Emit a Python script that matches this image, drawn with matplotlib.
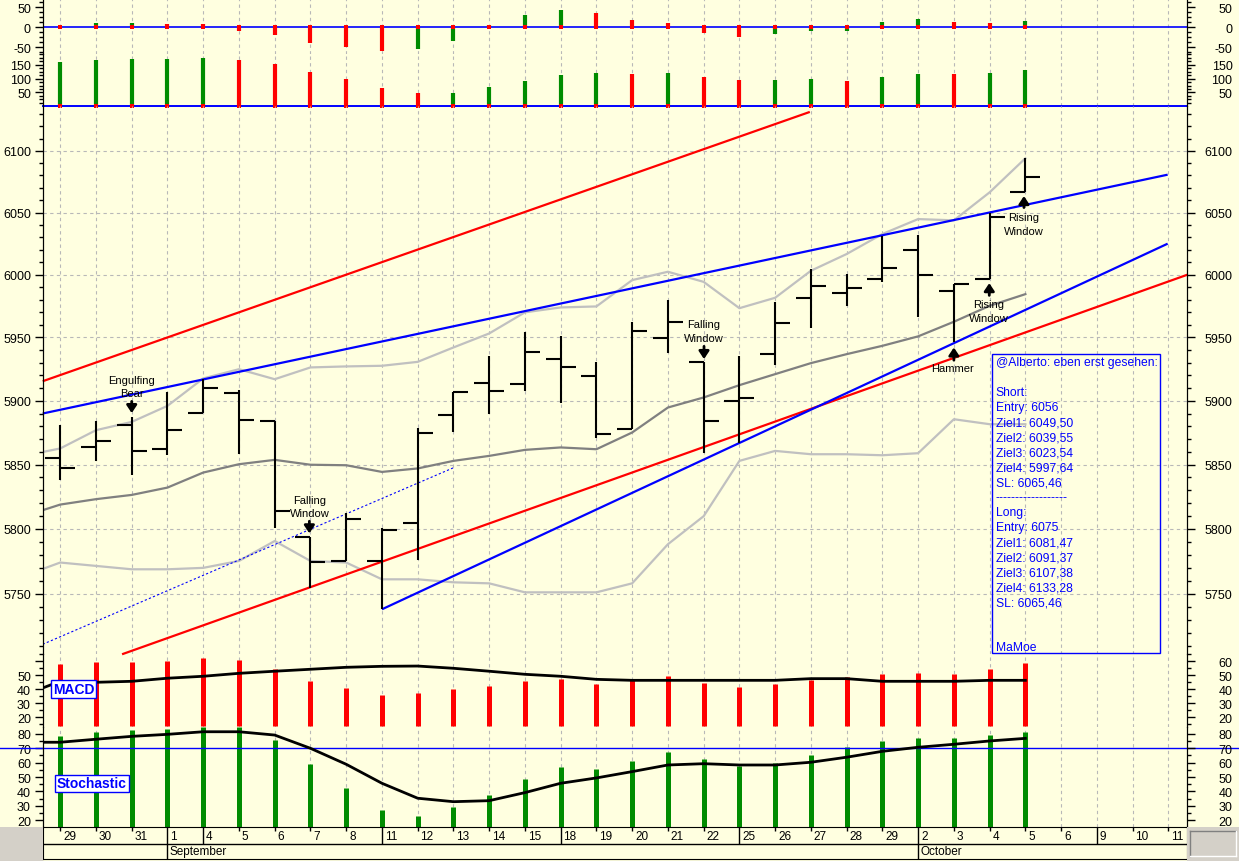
import matplotlib
matplotlib.use("Agg")
import numpy as np
import matplotlib.pyplot as plt
from matplotlib.ticker import FixedLocator, FuncFormatter, NullFormatter
from matplotlib.patches import Rectangle

plt.rcParams['font.family'] = ['Liberation Sans', 'DejaVu Sans']

W, H = 1239, 862
BG = '#ffffe0'
RED = '#ff0000'
GREEN = '#008c00'
BLUE = '#0000ff'
GRID = '#b8b8b8'

# ---- dates (trading days, Aug 29 .. Oct 11) ----
days = ['29', '30', '31', '1', '4', '5', '6', '7', '8', '11', '12', '13', '14', '15', '18', '19',
        '20', '21', '22', '25', '26', '27', '28', '29', '2', '3', '4', '5', '6', '9', '10', '11']
week_starts = [4, 9, 14, 19, 24, 29]
month_starts = [3, 24]
month_names = ['September', 'October']

# ---- momentum / volume (top panels) ----
mom = [1, 11, 11, 8, 8, -8, -18, -38, -48, -60, -55, -33, 6, 31, 43, 36,
       18, 11, -13, -23, -16, -8, -8, 12, 21, 12, 11, 16]
mom_col = ['r', 'g', 'g', 'r', 'r', 'r', 'r', 'r', 'r', 'r', 'g', 'g', 'g', 'g', 'g', 'r',
           'r', 'r', 'r', 'r', 'g', 'g', 'g', 'g', 'g', 'r', 'r', 'g']
vol = [161, 168, 171, 171, 175, 168, 153, 124, 99, 66, 48, 48, 70, 91, 113, 120,
       117, 120, 106, 95, 95, 99, 91, 106, 117, 117, 120, 131]
vol_col = ['g', 'g', 'g', 'g', 'g', 'r', 'r', 'r', 'r', 'r', 'r', 'g', 'g', 'g', 'g', 'g',
           'r', 'g', 'r', 'r', 'g', 'g', 'r', 'g', 'g', 'r', 'g', 'g']

# ---- OHLC ----
opens = [5855.0, 5863.8, 5880.8, 5862.3, 5890.5, 5905.8, 5884.2, 5793.8, 5775.0, 5775.3,
         5805.0, 5888.7, 5913.9, 5912.9, 5933.1, 5919.7, 5877.7, 5949.7, 5930.7, 5899.7,
         5937.1, 5981.4, 5985.3, 5996.5, 6020.0, 5986.9, 5996.5, 6066.3]
highs = [5880.8, 5884.5, 5886.9, 5907.3, 5917.3, 5908.4, 5884.2, 5793.8, 5812.7, 5801.1,
         5879.0, 5907.0, 5935.0, 5954.0, 5950.9, 5930.2, 5962.0, 5980.0, 5930.7, 5935.0,
         5977.9, 6004.5, 6000.5, 6031.3, 6031.8, 5992.5, 6049.6, 6093.9]
lows = [5837.8, 5852.9, 5842.0, 5857.6, 5890.5, 5858.1, 5800.6, 5754.5, 5775.0, 5738.2,
        5776.1, 5875.6, 5889.5, 5907.8, 5897.9, 5870.4, 5877.7, 5937.6, 5858.9, 5866.7,
        5928.1, 5957.2, 5974.7, 5993.9, 5966.0, 5946.1, 5996.5, 6066.3]
closes = [5847.2, 5868.5, 5860.7, 5877.2, 5910.0, 5884.8, 5814.0, 5774.8, 5807.5, 5799.0,
          5874.8, 5907.0, 5907.8, 5938.9, 5926.8, 5874.0, 5955.3, 5962.5, 5884.2, 5902.3,
          5961.7, 5990.7, 5989.3, 6005.1, 6000.0, 5992.5, 6046.1, 6078.9]

# indicator lines (first value = day before Aug 29)
ma = [5810, 5818.9, 5823.1, 5826.4, 5832.1, 5843.8, 5850.3, 5853.7, 5849.9, 5849.5, 5844.3,
      5847.0, 5852.9, 5856.8, 5861.5, 5863.4, 5862.0, 5875.1, 5894.7, 5902.6, 5912.3,
      5921.0, 5929.7, 5936.8, 5943.4, 5950.9, 5962.5, 5975.2, 5984.5]
band_up = [5857, 5862.6, 5876.9, 5883.4, 5896.0, 5917.6, 5924.9, 5917.0, 5926.3, 5927.1,
           5927.6, 5930.7, 5942.1, 5953.2, 5970.0, 5973.9, 5974.7, 5995.7, 6002.4, 5994.3,
           5973.3, 5981.6, 6003.2, 6016.6, 6032.7, 6044.7, 6043.7, 6066.3, 6093.9]
band_lo = [5764, 5774.1, 5771.5, 5768.9, 5768.9, 5770.0, 5775.3, 5790.7, 5775.3, 5774.1,
           5761.2, 5761.2, 5758.9, 5758.1, 5751.2, 5751.2, 5751.2, 5758.1, 5788.2, 5809.9,
           5852.9, 5860.7, 5858.1, 5858.1, 5857.3, 5858.9, 5885.5, 5881.6, 5881.6]

# trend lines: (x0, x1), (p0, p1)
red_upper = ([-0.49, 20.97], [5915.4, 6131.7])
red_lower = ([1.73, 31.53], [5703.9, 6000.0])
blue_upper = ([-0.49, 30.98], [5890.0, 6080.6])
blue_lower = ([9.0, 30.98], [5738.2, 6024.9])
blue_dotted = ([-0.49, 11.04], [5711.5, 5848.0])

notes = [("Engulfing\nBear", 2.0, 5911.5), ("Falling\nWindow", 6.97, 5817.6),
         ("Falling\nWindow", 18.01, 5955.1), ("Hammer", 24.96, 5925.7),
         ("Rising\nWindow", 25.98, 5971.0), ("Rising\nWindow", 26.96, 6040.7)]
arrows = [(2.0, 5899.5, 5890.3), (6.97, 5806.0, 5796.6), (18.01, 5943.0, 5932.9),
          (25.0, 5932.0, 5942.1), (25.99, 5983.5, 5993.3), (26.96, 6054.0, 6063.3)]

info_lines = ["@Alberto: eben erst gesehen:", "", "Short:", "Entry: 6056", "Ziel1: 6049,50",
              "Ziel2: 6039,55", "Ziel3: 6023,54", "Ziel4: 5997,64", "SL: 6065,46",
              "------------------", "Long:", "Entry: 6075", "Ziel1: 6081,47", "Ziel2: 6091,37",
              "Ziel3: 6107,38", "Ziel4: 6133,28", "SL: 6065,46", "", "", "MaMoe"]

# ---- MACD / stochastic ----
macd_hist = [58.1, 59.3, 59.3, 60.0, 62.1, 60.7, 54.5, 45.7, 40.7, 35.7, 37.1, 40.0, 42.1, 45.7,
             47.1, 43.6, 46.4, 49.3, 44.3, 41.4, 43.6, 46.4, 48.6, 50.7, 51.4, 50.7, 54.3, 58.6]
macd_signal = [36, 45.7, 45.0, 45.7, 47.9, 49.3, 51.4, 52.9, 54.3, 55.7, 56.4, 56.6, 55.0, 52.9,
               50.7, 49.3, 47.1, 46.4, 46.4, 46.4, 46.4, 46.4, 47.6, 47.6, 45.7, 45.7, 45.7,
               46.4, 46.4]
stoch_k = [78.3, 81.1, 82.5, 83.2, 84.6, 84.6, 75.6, 58.9, 42.2, 27.0, 22.8, 29.0, 37.4, 48.5,
           56.8, 55.4, 61.0, 67.2, 62.4, 57.5, 59.6, 65.1, 70.7, 74.9, 76.9, 76.9, 79.0, 81.1]
stoch_d = [74.2, 74.2, 76.3, 78.3, 79.7, 81.5, 81.5, 79.2, 70.0, 58.9, 45.7, 35.3, 32.9, 33.6,
           39.2, 45.7, 49.4, 53.8, 58.4, 59.3, 58.4, 58.4, 60.3, 63.8, 67.9, 70.7, 72.8, 75.1,
           76.9]

n = len(opens)
x = np.arange(n)
xm = np.arange(-1, n)
cmap = {'r': RED, 'g': GREEN}

fig = plt.figure(figsize=(W / 100, H / 100), dpi=100, facecolor=BG)
L, R = 42.7, 1187.3
XLIM = (-0.49, 31.53)


def panel(top, bottom, ylim, major, minor, left_lab, right_lab, log=False, hgrid=False):
    ax = fig.add_axes([L / W, 1 - bottom / H, (R - L) / W, (bottom - top) / H])
    ax.set_facecolor('none')
    if log:
        ax.set_yscale('log')
    ax.set_xlim(*XLIM)
    ax.set_ylim(*ylim)
    ax.set_xticks(range(len(days)))
    ax.tick_params(axis='x', length=0, labelbottom=False)
    ax.grid(axis='x', color=GRID, ls=(0, (3, 3)), lw=0.8)
    if hgrid:
        ax.grid(axis='y', which='major', color=GRID, ls=(0, (3, 3)), lw=0.8)
    ax.set_axisbelow(True)
    axr = ax.twinx()
    if log:
        axr.set_yscale('log')
    axr.set_ylim(*ylim)
    for a, labs in ((ax, left_lab), (axr, right_lab)):
        a.yaxis.set_major_locator(FixedLocator(major))
        a.yaxis.set_minor_locator(FixedLocator(minor))
        a.yaxis.set_major_formatter(
            FuncFormatter(lambda v, p, labs=labs: f'{v:.0f}' if round(v) in labs else ''))
        a.yaxis.set_minor_formatter(NullFormatter())
        for s in ('top', 'bottom'):
            a.spines[s].set_visible(False)
    ax.tick_params(axis='y', which='major', direction='out', length=5.5, width=1,
                   labelsize=9, pad=3)
    ax.tick_params(axis='y', which='minor', direction='out', length=3, width=1)
    axr.tick_params(axis='y', which='major', direction='out', length=5.5, width=1,
                    labelsize=9, pad=27)
    axr.tick_params(axis='y', which='minor', direction='out', length=3, width=1)
    for lab in axr.get_yticklabels():
        lab.set_horizontalalignment('right')
    return ax


# momentum
ax_m = panel(0, 55, (-66.3, 70.2), [-50, 0, 50], list(np.arange(-62.5, 70, 12.5)),
             [-50, 0, 50], [-50, 0, 50])
ax_m.axhline(0, color=BLUE, lw=1.2, zorder=1.5)
ax_m.vlines(x, 0, mom, colors=[cmap[c] for c in mom_col], lw=3, zorder=2)
ax_m.scatter(x, np.zeros(n), marker='s', s=10, color=RED, lw=0, zorder=3)

# volume
ax_v = panel(55, 107.3, (0, 188.6), [50, 100, 150], list(np.arange(12.5, 188, 12.5)),
             [50, 100, 150], [50, 100, 150])
ax_v.axhline(0, color=BLUE, lw=1.4, zorder=1.5, clip_on=False)
ax_v.vlines(x, 0, vol, colors=[cmap[c] for c in vol_col], lw=3, zorder=2)
ax_v.scatter(x, np.zeros(n), marker='s', s=10, color=RED, lw=0, zorder=3, clip_on=False)

# price
pmaj = list(range(5750, 6101, 50))
pmin = list(range(5710, 6131, 10))
ax_p = panel(107.3, 655, (5704.1, 6136.3), pmaj, pmin, pmaj, pmaj, log=True, hgrid=True)
ax_p.plot(xm, band_up, color='#c0c0c0', lw=1.6)
ax_p.plot(xm, band_lo, color='#c0c0c0', lw=1.6)
ax_p.plot(xm, ma, color='#808080', lw=1.6)
ax_p.plot(*blue_dotted, color=BLUE, lw=0.8, ls=(0, (2, 2)))
for (xs, ps), col in ((red_upper, RED), (red_lower, RED), (blue_upper, BLUE), (blue_lower, BLUE)):
    ax_p.plot(xs, ps, color=col, lw=1.6, clip_on=False, solid_capstyle='butt')
ax_p.vlines(x, lows, highs, color='k', lw=1.5, zorder=4)
ax_p.hlines(opens, x - 0.42, x, color='k', lw=1.5, zorder=4)
ax_p.hlines(closes, x, x + 0.42, color='k', lw=1.5, zorder=4)
for txt, tx, ty in notes:
    ax_p.text(tx, ty, txt, ha='center', va='center', fontsize=8, linespacing=1.4, zorder=5)
for ax_x, tail, tip in arrows:
    ax_p.annotate('', xy=(ax_x, tip), xytext=(ax_x, tail), zorder=5,
                  arrowprops=dict(arrowstyle='-|>,head_width=0.3,head_length=0.45',
                                  lw=2.0, color='k', shrinkA=0, shrinkB=0, mutation_scale=10))

# MACD
ax_c = panel(655, 728, (13.07, 65.2), [20, 30, 40, 50, 60], list(range(15, 66, 5)),
             [20, 30, 40, 50], [20, 30, 40, 50, 60])
ax_c.vlines(x, 14, macd_hist, color=RED, lw=3.6, zorder=2)
ax_c.plot(xm, macd_signal, color='k', lw=2, zorder=3)

# stochastic
smaj = list(range(20, 81, 10))
ax_s = panel(728, 828.3, (15.1, 84.8), smaj, list(range(20, 85, 5)), smaj, smaj)
ax_s.vlines(x, 15.1, stoch_k, color=GREEN, lw=3.6, zorder=2, clip_on=False)
ax_s.plot(xm, stoch_d, color='k', lw=2, zorder=3)
ax_s.axhline(70, xmin=-L / (R - L), xmax=(W - L) / (R - L), color=BLUE, lw=1,
             clip_on=False, zorder=2.5)

# date strip
ax_d = fig.add_axes([L / W, 1 - 860 / H, (R - L) / W, (860 - 828.3) / H])
ax_d.set_facecolor('none')
ax_d.set_xlim(*XLIM)
ax_d.set_ylim(0, 1)
ax_d.set_xticks([])
ax_d.set_yticks([])
sep = (860 - 844.5) / (860 - 828.3)
ax_d.axhline(sep, color='k', lw=1)
for i, d in enumerate(days):
    if i in month_starts:
        ax_d.vlines(i, 0, 1, color='k', lw=1)
    elif i in week_starts:
        ax_d.vlines(i, sep, 1, color='k', lw=1)
    else:
        ax_d.vlines(i, 1 - 4 / 31.7, 1, color='k', lw=1)
    ax_d.text(i + 0.08, 0.74, d, ha='left', va='center', fontsize=8.5)
for i, name in zip(month_starts, month_names):
    ax_d.text(i + 0.07, sep / 2, name, ha='left', va='center', fontsize=8.5)

# overlay in pixel coordinates for boxes and corner areas
ov = fig.add_axes([0, 0, 1, 1])
ov.set_xlim(0, W)
ov.set_ylim(H, 0)
ov.axis('off')
ov.patch.set_alpha(0)
ov.add_patch(Rectangle((0, 828.3), L, H - 828.3, fc='#d4d0c8', ec='none'))
ov.add_patch(Rectangle((R, 828.3), W - R, H - 828.3, fc='#d4d0c8', ec='none'))
ov.plot([1190, 1236], [832, 832], color='#808080', lw=1)
ov.plot([1190, 1190], [832, 857], color='#808080', lw=1)
ov.plot([1190, 1236], [857, 857], color='white', lw=1)
ov.plot([1236, 1236], [832, 857], color='white', lw=1)
ov.add_patch(Rectangle((992.3, 355), 168, 299, fill=False, ec=BLUE, lw=1))
for k, line in enumerate(info_lines):
    if line:
        ov.text(995.7, 363.3 + 15 * k, line, color=BLUE, fontsize=8.7, ha='left', va='center')
box = dict(boxstyle='square,pad=0.12', fc='white', ec=BLUE, lw=1)
ov.text(73.5, 690, 'MACD', color=BLUE, fontsize=10, fontweight='bold', ha='center',
        va='center', bbox=box)
ov.text(92, 784.5, 'Stochastic', color=BLUE, fontsize=10, fontweight='bold', ha='center',
        va='center', bbox=box)

fig.savefig('out.png', dpi=100, facecolor=BG)
